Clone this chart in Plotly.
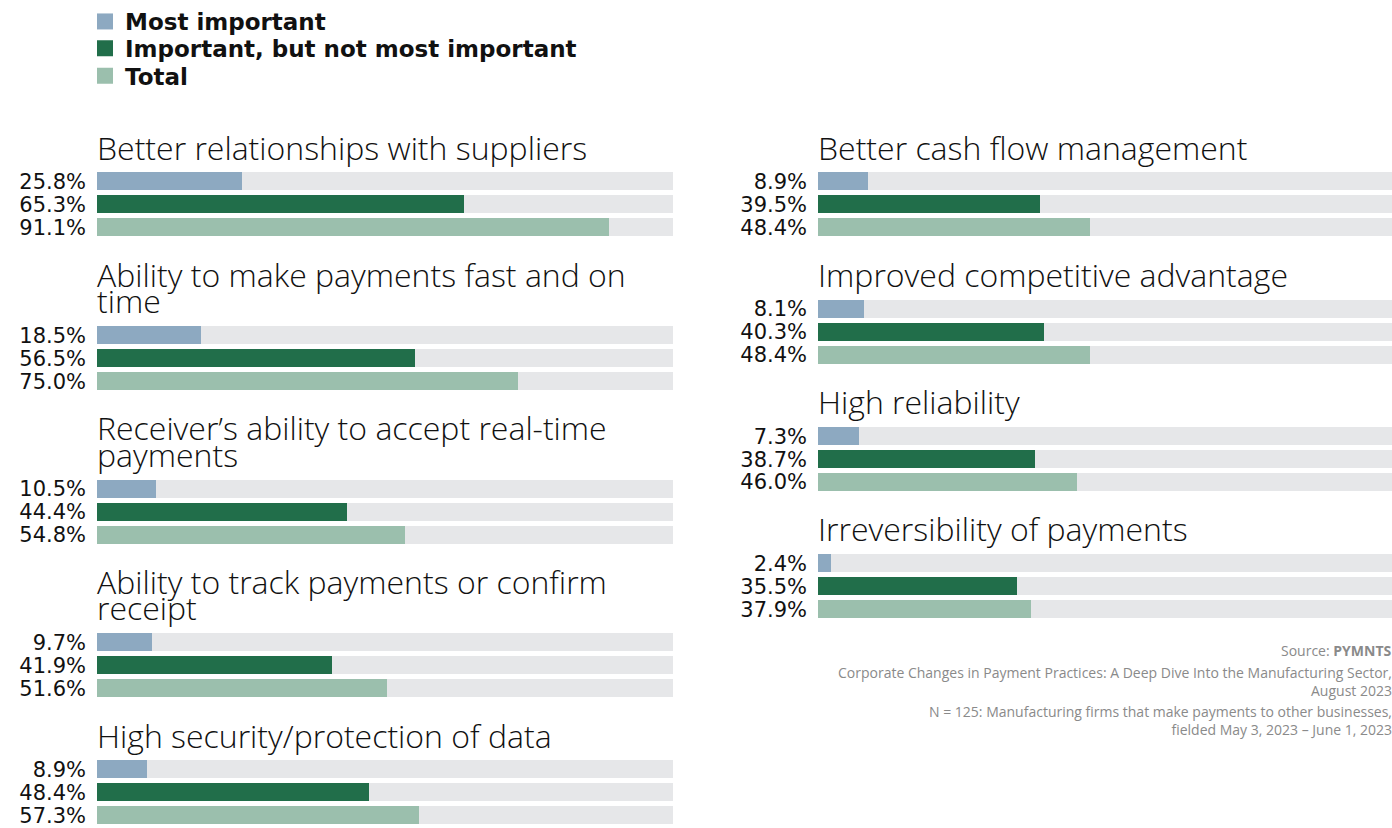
import plotly.graph_objects as go

# ---------------- data ----------------
series_names = ["Most important", "Important, but not most important", "Total"]
series_colors = ["#8DA9C1", "#216E4A", "#9BBFAD"]

left_titles = [
    "Better relationships with suppliers",
    "Ability to make payments fast and on\ntime",
    "Receiver\u2019s ability to accept real-time\npayments",
    "Ability to track payments or confirm\nreceipt",
    "High security/protection of data",
]
left_most = [25.8, 18.5, 10.5, 9.7, 8.9]
left_important = [65.3, 56.5, 44.4, 41.9, 48.4]
left_total = [91.1, 75.0, 54.8, 51.6, 57.3]

right_titles = [
    "Better cash flow management",
    "Improved competitive advantage",
    "High reliability",
    "Irreversibility of payments",
]
right_most = [8.9, 8.1, 7.3, 2.4]
right_important = [39.5, 40.3, 38.7, 35.5]
right_total = [48.4, 48.4, 46.0, 37.9]

axis_max = 102.5  # full track length

source_notes = [
    "Source: <b>PYMNTS</b>",
    "Corporate Changes in Payment Practices: A Deep Dive Into the Manufacturing Sector,<br>August 2023",
    "N = 125: Manufacturing firms that make payments to other businesses,<br>fielded May 3, 2023 \u2013 June 1, 2023",
]

# ---------------- layout helpers ----------------
W, H = 1392, 828
TRACK = "#E6E7E9"
TITLE_FONT = dict(family="Open Sans", size=32, color="#111111", weight=300)
TICK_FONT = dict(family="DejaVu Sans", size=21, color="#111111")


def fx(px):
    return px / W


def fy(py):
    return 1 - py / H


fig = go.Figure()
layout = {}
annotations = []

columns = [
    (97, 673, left_titles, left_most, left_important, left_total),
    (818, 1394, right_titles, right_most, right_important, right_total),
]

ax = 0
for x0, x1, titles, most, imp, tot in columns:
    center = 147.0
    for t, a, b, c in zip(titles, most, imp, tot):
        ax += 1
        lines = t.split("\n")
        for li, line in enumerate(lines):
            annotations.append(dict(
                text=line, x=fx(x0 - 2), y=fy(center - 2 + li * 26.5),
                xref="paper", yref="paper", xanchor="left", yanchor="middle",
                showarrow=False, font=TITLE_FONT,
            ))
        last = center + (len(lines) - 1) * 26.5
        dtop = last + 21.5
        dbot = dtop + 69
        xr_max = axis_max
        if x1 > W:
            xr_max = axis_max * (W - x0) / (x1 - x0)
            x1c = W
        else:
            x1c = x1
        yr_low = 2.5
        if dbot > H:
            yr_low = 2.5 - (dbot - H) / 23.0
            dbot_c = H
        else:
            dbot_c = dbot
        xa = "x" if ax == 1 else f"x{ax}"
        ya = "y" if ax == 1 else f"y{ax}"
        vals = [a, b, c]
        fig.add_trace(go.Bar(
            x=[axis_max] * 3, y=[0, 1, 2], orientation="h", width=18 / 23,
            marker=dict(color=TRACK, line=dict(width=0)), showlegend=False,
            hoverinfo="skip", xaxis=xa, yaxis=ya,
        ))
        fig.add_trace(go.Bar(
            x=vals, y=[0, 1, 2], orientation="h", width=18 / 23,
            marker=dict(color=series_colors, line=dict(width=0)), showlegend=False,
            xaxis=xa, yaxis=ya,
        ))
        layout[f"xaxis{'' if ax == 1 else ax}"] = dict(
            domain=[fx(x0), fx(x1c)], range=[0, xr_max], visible=False,
            anchor=ya, fixedrange=True,
        )
        layout[f"yaxis{'' if ax == 1 else ax}"] = dict(
            domain=[fy(dbot_c), fy(dtop)], range=[yr_low, -0.5], anchor=xa,
            tickvals=[0, 1, 2], ticktext=[f"{v:.1f}%" for v in vals],
            tickfont=TICK_FONT, showgrid=False, zeroline=False, showline=False,
            ticks="", ticklabelstandoff=10, ticklabeloverflow="allow",
            fixedrange=True,
        )
        center = dbot + 37.5

# legend-only traces, one legend per entry for tight spacing
legend_tops = [-3.5, 24, 51.5]
legend_ids = ["legend", "legend2", "legend3"]
for name, col, lid in zip(series_names, series_colors, legend_ids):
    fig.add_trace(go.Scatter(
        x=[None], y=[None], mode="markers", name=name, legend=lid,
        marker=dict(symbol="square", size=16, color=col, line=dict(width=0)),
        xaxis="x", yaxis="y",
    ))
for lid, top in zip(legend_ids, legend_tops):
    layout[lid] = dict(
        x=fx(85), y=fy(top), xanchor="left", yanchor="top",
        font=dict(family="DejaVu Sans", size=23, color="#111111", weight="bold"),
        itemwidth=30, bgcolor="rgba(0,0,0,0)",
    )

# source notes
src_y = [651, 683, 722]
for note, yy in zip(source_notes, src_y):
    annotations.append(dict(
        text=note, x=fx(1394), y=fy(yy), xref="paper", yref="paper",
        xanchor="right", yanchor="middle", align="right", showarrow=False,
        font=dict(family="Open Sans", size=14, color="#8A8A8A"),
    ))

fig.update_layout(
    width=W, height=H, margin=dict(l=0, r=0, t=0, b=0),
    paper_bgcolor="white", plot_bgcolor="white",
    barmode="overlay", bargap=0,
    annotations=annotations,
    showlegend=True,
    **layout,
)

fig.write_html("out.html")
